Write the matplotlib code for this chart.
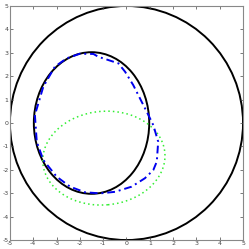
import matplotlib
matplotlib.use("Agg")
import matplotlib.pyplot as plt
from matplotlib.patches import Ellipse

plt.rcParams["axes.unicode_minus"] = False

# outer boundary circle and the two ellipses: (cx, cy, width, height, angle)
outer = (0.0, 0.0, 10.0, 10.0, 0.0)
true_shape = (-1.5, 0.0, 4.95, 6.05, 0.0)
init_shape = (-0.97, -1.5, 5.25, 4.0, 5.0)

# estimated boundary (blue dash-dot)
est_x = [-3.93, -3.85, -3.57, -3.00, -2.42, -1.78, -1.21, -1.06, -0.49, 0.22,
         0.79, 1.15, 1.30, 1.36, 1.15, 0.94, 0.65, 0.29, -0.06, -0.35,
         -0.78, -1.21, -1.42, -2.00, -2.57, -3.07, -3.57, -3.93]
est_y = [0.34, -0.80, -1.58, -2.29, -2.72, -2.96, -3.00, -3.00, -2.94, -2.72,
         -2.36, -2.01, -1.65, -0.80, -0.09, 0.34, 0.91, 1.62, 2.19, 2.55,
         2.69, 2.83, 2.95, 2.96, 2.76, 2.41, 1.55, 0.34]

ticks = list(range(-5, 6))

fig = plt.figure(figsize=(2.49, 2.49), dpi=100)
ax = fig.add_axes([0.040, 0.036, 0.936, 0.940])

ax.add_patch(Ellipse(outer[:2], outer[2], outer[3], angle=outer[4],
                     fill=False, edgecolor="black", linewidth=1.4))
ax.add_patch(Ellipse(true_shape[:2], true_shape[2], true_shape[3],
                     angle=true_shape[4], fill=False, edgecolor="black",
                     linewidth=1.4))
ax.add_patch(Ellipse(init_shape[:2], init_shape[2], init_shape[3],
                     angle=init_shape[4], fill=False, edgecolor="#33ee33",
                     linestyle=(0, (1, 2)), linewidth=1.1))

ax.plot(est_x, est_y, color="#0000ee", linestyle=(0, (4, 2, 1, 2)),
        linewidth=1.4)

ax.set_xlim(-5, 5)
ax.set_ylim(-5, 5)
ax.set_xticks(ticks)
ax.set_yticks(ticks)
ax.tick_params(direction="in", length=2, width=0.5, labelsize=4.5,
               colors="#444444", pad=1, top=True, right=True)
for s in ax.spines.values():
    s.set_color("#888888")
    s.set_linewidth(0.8)

fig.savefig("out.png", dpi=100)
